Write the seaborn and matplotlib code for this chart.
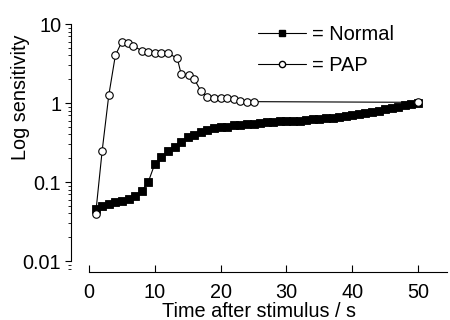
import numpy as np
import pandas as pd
import seaborn as sns
import matplotlib
matplotlib.use('Agg')
import matplotlib.pyplot as plt
from matplotlib.lines import Line2D
from matplotlib.ticker import FixedLocator, FixedFormatter, LogLocator, NullFormatter

# Normal: one point per second
normal_t = list(range(1, 51))
normal_y = [0.045, 0.050, 0.053, 0.056, 0.058, 0.061, 0.067, 0.077, 0.10, 0.17,
            0.21, 0.245, 0.275, 0.32, 0.37, 0.39, 0.43, 0.46, 0.48, 0.49,
            0.50, 0.52, 0.53, 0.54, 0.55, 0.56, 0.57, 0.58, 0.585, 0.59,
            0.60, 0.60, 0.61, 0.62, 0.63, 0.64, 0.65, 0.67, 0.69, 0.71,
            0.73, 0.75, 0.77, 0.80, 0.83, 0.86, 0.89, 0.93, 0.97, 1.00]

# PAP
pap_t = [1, 2, 3, 4, 5, 5.9, 6.7, 8, 9, 10, 11, 12, 13.4, 14, 15.2,
         16, 17, 18, 19, 20, 21, 22, 23, 24, 25, 50]
pap_y = [0.039, 0.25, 1.25, 4.0, 6.0, 5.7, 5.3, 4.6, 4.4, 4.3, 4.3, 4.25, 3.7, 2.33, 2.26,
         2.0, 1.42, 1.2, 1.17, 1.15, 1.15, 1.12, 1.05, 1.04, 1.04, 1.02]

y_ticks = [0.01, 0.1, 1, 10]
y_labels = ['0.01', '0.1', '1', '10']
x_ticks = [0, 10, 20, 30, 40, 50]

sns.set_style('ticks')
plt.rcParams['font.family'] = ['Liberation Sans', 'DejaVu Sans']
plt.rcParams['text.color'] = 'black'
plt.rcParams['axes.labelcolor'] = 'black'
plt.rcParams['xtick.color'] = 'black'
plt.rcParams['ytick.color'] = 'black'
plt.rcParams['axes.edgecolor'] = 'black'

fig = plt.figure(figsize=(4.5, 3.2), dpi=100)
ax = fig.add_axes([71 / 450, 48 / 320, 376 / 450, 248 / 320])

df_n = pd.DataFrame({'t': normal_t, 'v': normal_y})
df_p = pd.DataFrame({'t': pap_t, 'v': pap_y})

sns.lineplot(data=df_n, x='t', y='v', ax=ax, color='black', lw=0.8,
             marker='s', markersize=5.4, markerfacecolor='black',
             markeredgecolor='black', markeredgewidth=0.6, sort=False)
sns.lineplot(data=df_p, x='t', y='v', ax=ax, color='black', lw=0.8,
             marker='o', markersize=5.4, markerfacecolor='white',
             markeredgecolor='black', markeredgewidth=0.8, sort=False)

ax.set_yscale('log')
ax.set_xlim(-2.74, 54.4)
ax.set_ylim(0.00726, 10)

ax.spines['top'].set_visible(False)
ax.spines['right'].set_visible(False)
ax.spines['left'].set_bounds(0.01, 10)
ax.spines['bottom'].set_bounds(0, 54.4)
ax.spines['left'].set_linewidth(0.8)
ax.spines['bottom'].set_linewidth(0.8)

ax.yaxis.set_major_locator(FixedLocator(y_ticks))
ax.yaxis.set_major_formatter(FixedFormatter(y_labels))
ax.yaxis.set_minor_locator(LogLocator(base=10, subs=np.arange(2, 10)))
ax.yaxis.set_minor_formatter(NullFormatter())
ax.set_xticks(x_ticks)

ax.tick_params(axis='y', which='major', direction='out', length=4, width=0.8,
               labelsize=14.3, pad=3)
ax.tick_params(axis='y', which='minor', direction='out', length=2, width=0.6)
ax.tick_params(axis='x', which='major', direction='in', length=5, width=0.8,
               labelsize=14.3, pad=8)

ax.set_xlabel('Time after stimulus / s', fontsize=14.3, labelpad=0)
ax.set_ylabel('Log sensitivity', fontsize=14.3)
ax.yaxis.set_label_coords(-0.108, 0.706)

handles = [
    Line2D([], [], color='black', lw=0.8, marker='s', markersize=4.5,
           markerfacecolor='black', markeredgecolor='black'),
    Line2D([], [], color='black', lw=0.8, marker='o', markersize=4.5,
           markerfacecolor='white', markeredgecolor='black'),
]
ax.legend(handles, ['= Normal', '= PAP'], loc='upper left',
          bbox_to_anchor=(258 / 450, 1 - 25 / 320), bbox_transform=fig.transFigure,
          frameon=False, fontsize=14.4, handlelength=2.4, handletextpad=0.3,
          labelspacing=0.6, borderpad=0, borderaxespad=0, numpoints=1)

fig.savefig('out.png', dpi=100)
